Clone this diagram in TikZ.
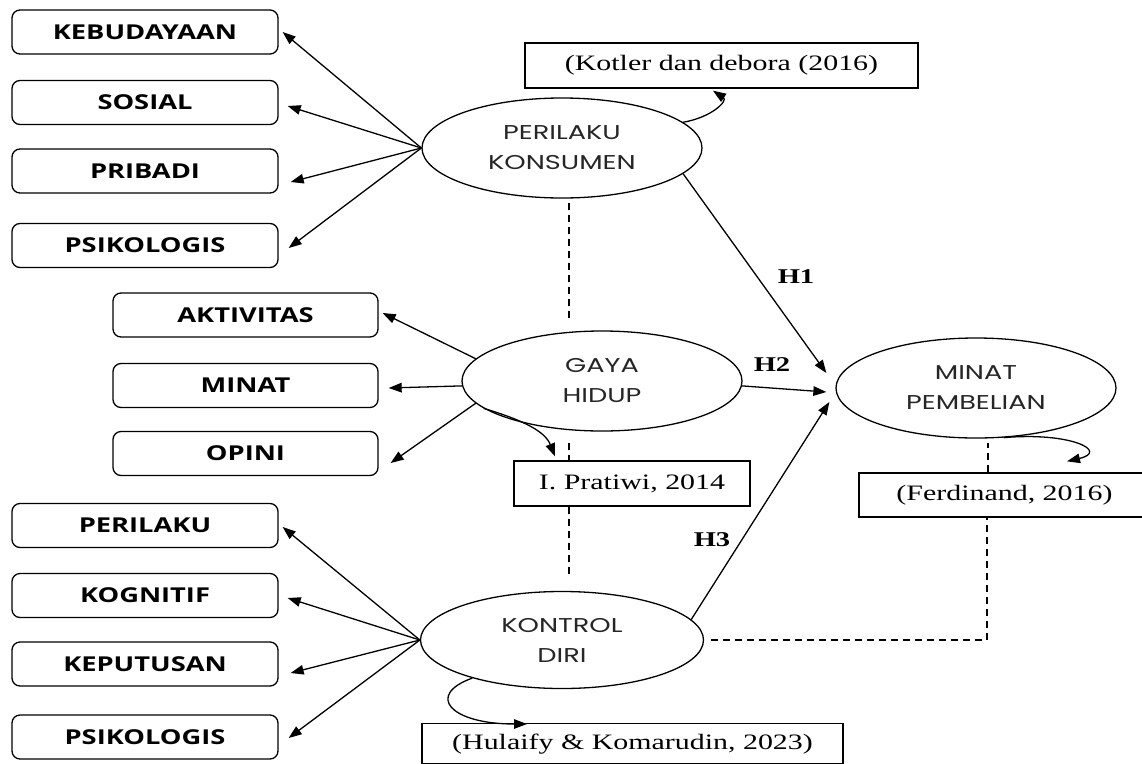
\documentclass[tikz,border=0pt]{standalone}
\usepackage{fontspec}
\setmainfont{Liberation Serif}[FakeStretch=1.36]
\newfontfamily\boxfont{Open Sans}[FakeStretch=1.33]
\newfontfamily\ellfont{Poppins}[FakeStretch=1.36]
\newfontfamily\citefont{Liberation Serif}[FakeStretch=1.36]
\usetikzlibrary{arrows.meta,calc,shapes.geometric}
\begin{document}
\begin{tikzpicture}[x=1pt,y=-1pt, line width=1.3pt,
  ind/.style={draw, rounded corners=8pt, minimum width=266pt, minimum height=44pt, inner sep=0pt, font=\boxfont\bfseries\fontsize{20.5}{24}\selectfont},
  lat/.style={draw, ellipse, minimum width=280pt, minimum height=100pt, inner sep=0pt, align=center, font=\ellfont\fontsize{20}{30}\selectfont, text=black!85},
  cite/.style={draw, rectangle, inner sep=0pt, font=\citefont\fontsize{22}{26}\selectfont},
  arr/.style={-{Triangle[length=13pt,width=9.5pt]}},
  dl/.style={dash pattern=on 7pt off 5pt},
  hl/.style={font=\citefont\bfseries\fontsize{21}{24}\selectfont}
]
\path[use as bounding box] (0,0) rectangle (1142,763);
\clip (0,0) rectangle (1142,763);
\fill[white] (0,0) rectangle (1142,763);

% indicator boxes
\node[ind] (k1) at (145,32) {KEBUDAYAAN};
\node[ind] (k2) at (145,102.5) {SOSIAL};
\node[ind] (k3) at (145,171) {PRIBADI};
\node[ind] (k4) at (145,245.5) {PSIKOLOGIS};
\node[ind, minimum width=265pt] (g1) at (245.5,315) {AKTIVITAS};
\node[ind, minimum width=265pt] (g2) at (245.5,385.5) {MINAT};
\node[ind, minimum width=265pt] (g3) at (245.5,453.5) {OPINI};
\node[ind] (d1) at (145,525.5) {PERILAKU};
\node[ind] (d2) at (145,595.5) {KOGNITIF};
\node[ind] (d3) at (145,664) {KEPUTUSAN};
\node[ind] (d4) at (145,737) {PSIKOLOGIS};

% latent variables
\node[lat] (PK) at (562,148) {PERILAKU\\KONSUMEN};
\node[lat] (GH) at (602,381) {GAYA\\HIDUP};
\node[lat] (MP) at (976,388) {MINAT\\PEMBELIAN};
\node[lat, minimum width=283pt, minimum height=97pt] (KD) at (562,640) {KONTROL\\DIRI};

% citations
\node[cite, minimum width=393pt, minimum height=45pt] (kot) at (721.5,65.5) {(Kotler dan debora (2016)};
\node[cite, minimum width=236pt, minimum height=45pt] (pra) at (632,483.5) {I. Pratiwi, 2014};
\node[cite, minimum width=291pt, minimum height=44pt] (fer) at (1004.5,495) {(Ferdinand, 2016)};
\node[cite, minimum width=421pt, minimum height=40pt, anchor=north] (hul) at (632.5,723) {(Hulaify \& Komarudin, 2023)};

% indicator arrows
\draw[arr] (PK.west) -- ([shift={(4,0)}]k1.east);
\draw[arr] (PK.west) -- ([shift={(9,3.5)}]k2.east);
\draw[arr] (PK.west) -- ([shift={(12,11)}]k3.east);
\draw[arr] (PK.west) -- ([shift={(10,2.5)}]k4.east);
\draw[arr] (GH.170) -- ([shift={(4,-2)}]g1.east);
\draw[arr] (GH.182) -- ([shift={(10,2.5)}]g2.east);
\draw[arr] (GH.190) -- ([shift={(12,9.5)}]g3.east);
\draw[arr] (KD.west) -- ([shift={(4,1.5)}]d1.east);
\draw[arr] (KD.west) -- ([shift={(9,2.5)}]d2.east);
\draw[arr] (KD.west) -- ([shift={(12,9)}]d3.east);
\draw[arr] (KD.west) -- ([shift={(10,1)}]d4.east);

% hypotheses
\draw[arr] (PK.-12) -- ([shift={(-9,-15)}]MP.west);
\draw[arr] (GH.-2) -- ([shift={(-9,4)}]MP.west);
\draw[arr] (KD.9) -- ([shift={(-6,14)}]MP.west);
\node[hl] (h1) at (796,277) {H1};
\node[hl] (h2) at (772,365) {H2};
\node[hl] (h3) at (712,540) {H3};

% dashed links
\draw[dl] ([shift={(7,4)}]PK.south) -- ([shift={(-33,-8)}]GH.north);
\draw[dl] ([shift={(-33,11)}]GH.south) -- ([shift={(-63,0)}]pra.north);
\draw[dl] ([shift={(-63,0)}]pra.south) -- ([shift={(7,-13.5)}]KD.north);
\draw[dl] ([shift={(7,0)}]KD.east) -| ([shift={(-17.5,0)}]fer.south);
\draw[dl] ([shift={(-16.5,0)}]fer.north) -- ([shift={(12,4)}]MP.south);

% curved citation arrows
\draw[arr] (PK.12) .. controls ($(PK.12)+(29,-5)$) and ($(kot.south)+(6.5,12)$) .. ([shift={(-8.5,2)}]kot.south);
\draw[arr] (MP.-61) .. controls ($(MP.-61)+(67,-6)$) and ($(fer.north)+(105,-21)$) .. ([shift={(62.5,-11)}]fer.north);
\draw[arr] (GH.193) .. controls ($(GH.193)+(40,12)$) and ($(pra.north)+(-87,-29)$) .. ([shift={(-77,-4)}]pra.north);
\draw[arr] (KD.203) .. controls ($(KD.203)+(-47,17)$) and ($(hul.north)+(-182.5,1)$) .. ([shift={(-105.5,1)}]hul.north);
\end{tikzpicture}
\end{document}
